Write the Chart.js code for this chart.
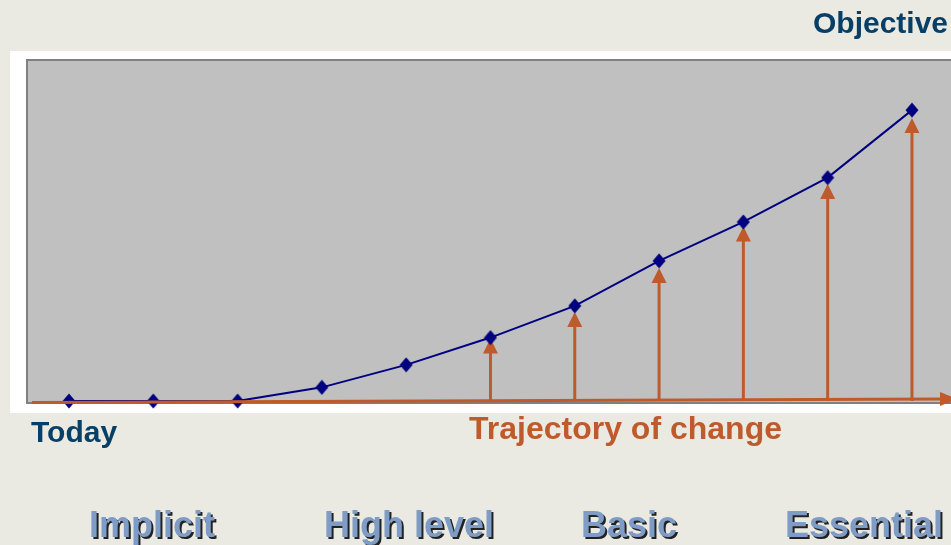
<!DOCTYPE html>
<html lang="en">
<head>
<meta charset="UTF-8">
<title>Trajectory of change</title>
<style>
  html, body { margin: 0; padding: 0; background: #ebeae2; overflow: hidden; }
  #wrap { position: relative; width: 951px; height: 545px; }
  #chart { position: absolute; left: 0; top: 0; }
  .txt { position: absolute; font-family: "Liberation Sans", Arial, sans-serif; font-weight: bold; line-height: 1; white-space: nowrap; }
  .blue { color: #073f66; font-size: 30px; }
  .orange { color: #be5a2b; font-size: 32px; }
  .stage { color: #7e9cc6; font-size: 36px; top: 507px; transform: translateX(-50%); text-shadow: 2px 2px 0.5px #222; }
</style>
</head>
<body>
<div id="wrap">
  <canvas id="chart" width="951" height="545"></canvas>
  <div class="txt blue" style="left:813px; top:8px;">Objective</div>
  <div class="txt blue" style="left:31px; top:417px;">Today</div>
  <div class="txt orange" style="left:469px; top:412px;">Trajectory of change</div>
  <div id="stages"></div>
</div>

<script src="https://cdn.jsdelivr.net/npm/chart.js"></script>
<script>
// step index along the trajectory
const steps = [0, 1, 2, 3, 4, 5, 6, 7, 8, 9, 10];
// level reached at each step (0 = today, 100 = top of the plot)
const levels = [0, 0, 0, 4.0, 10.6, 18.6, 27.9, 41.1, 52.5, 65.5, 85.3];
// orange arrows: where they stand and how high they reach
const arrowSteps = [5, 6, 7, 8, 9, 10];
const arrowTops = [18.3, 26.1, 39.0, 51.2, 63.6, 83.0];
// stage names under the chart and their centres (px)
const stageNames = ['Implicit', 'High level', 'Basic', 'Essential'];
const stageCentres = [152, 409, 629, 864];

const navy = '#000080';
const orange = '#be5a2b';

stageNames.forEach((name, i) => {
  const d = document.createElement('div');
  d.className = 'txt stage';
  d.style.left = stageCentres[i] + 'px';
  d.textContent = name;
  document.getElementById('stages').appendChild(d);
});

// diamond marker, a little taller than wide
const diamond = document.createElement('canvas');
diamond.width = 14;
diamond.height = 16;
(() => {
  const c = diamond.getContext('2d');
  c.fillStyle = navy;
  c.beginPath();
  c.moveTo(7, 0.5);
  c.lineTo(13.5, 8);
  c.lineTo(7, 15.5);
  c.lineTo(0.5, 8);
  c.closePath();
  c.fill();
})();

const backdrop = {
  id: 'backdrop',
  beforeDraw(chart) {
    const { ctx, chartArea: a } = chart;
    ctx.save();
    ctx.fillStyle = '#ebeae2';
    ctx.fillRect(0, 0, chart.width, chart.height);
    ctx.fillStyle = '#ffffff';
    ctx.fillRect(10, 51, chart.width - 10, 362);
    ctx.fillStyle = '#c0c0c0';
    ctx.fillRect(a.left, a.top, a.right - a.left, a.bottom - a.top);
    // border on top, left and bottom only; the plot runs off the right edge
    ctx.strokeStyle = '#808080';
    ctx.lineWidth = 2;
    ctx.beginPath();
    ctx.moveTo(a.right + 5, a.top - 1);
    ctx.lineTo(a.left - 1, a.top - 1);
    ctx.lineTo(a.left - 1, a.bottom + 1);
    ctx.lineTo(a.right + 5, a.bottom + 1);
    ctx.stroke();
    ctx.restore();
  }
};

function arrowHead(ctx, tipX, tipY, dir, len, half) {
  ctx.beginPath();
  if (dir === 'up') {
    ctx.moveTo(tipX, tipY);
    ctx.lineTo(tipX - half, tipY + len);
    ctx.lineTo(tipX + half, tipY + len);
  } else {
    ctx.moveTo(tipX, tipY);
    ctx.lineTo(tipX - len, tipY - half);
    ctx.lineTo(tipX - len, tipY + half);
  }
  ctx.closePath();
  ctx.fill();
}

const arrows = {
  id: 'arrows',
  beforeDatasetsDraw(chart) {
    const { ctx, scales: { x, y } } = chart;
    ctx.save();
    ctx.strokeStyle = orange;
    ctx.fillStyle = orange;
    ctx.lineWidth = 3;
    const base = y.getPixelForValue(0);
    arrowSteps.forEach((s, i) => {
      const px = x.getPixelForValue(s);
      const top = y.getPixelForValue(arrowTops[i]);
      ctx.beginPath();
      ctx.moveTo(px, base);
      ctx.lineTo(px, top + 12);
      ctx.stroke();
      arrowHead(ctx, px, top, 'up', 15, 7.5);
    });
    ctx.restore();
  },
  afterDatasetsDraw(chart) {
    const { ctx, scales: { y } } = chart;
    const base = y.getPixelForValue(0);
    ctx.save();
    ctx.strokeStyle = orange;
    ctx.fillStyle = orange;
    ctx.lineWidth = 3;
    ctx.beginPath();
    ctx.moveTo(32, base + 1.5);
    ctx.lineTo(942, base - 2);
    ctx.stroke();
    arrowHead(ctx, 957, base - 2, 'right', 17, 7);
    ctx.restore();
  }
};

new Chart(document.getElementById('chart'), {
  type: 'line',
  data: {
    datasets: [{
      data: steps.map((s, i) => ({ x: s, y: levels[i] })),
      borderColor: navy,
      borderWidth: 2,
      tension: 0,
      pointStyle: diamond,
      pointRadius: 7,
      clip: false
    }]
  },
  options: {
    responsive: false,
    animation: false,
    events: [],
    layout: { autoPadding: false, padding: { left: 28, top: 61, right: 0, bottom: 143 } },
    plugins: { legend: { display: false }, tooltip: { enabled: false } },
    scales: {
      x: { type: 'linear', display: false, min: -0.486, max: 10.463 },
      y: { type: 'linear', display: false, min: -0.293, max: 99.7 }
    }
  },
  plugins: [backdrop, arrows]
});
</script>
</body>
</html>
